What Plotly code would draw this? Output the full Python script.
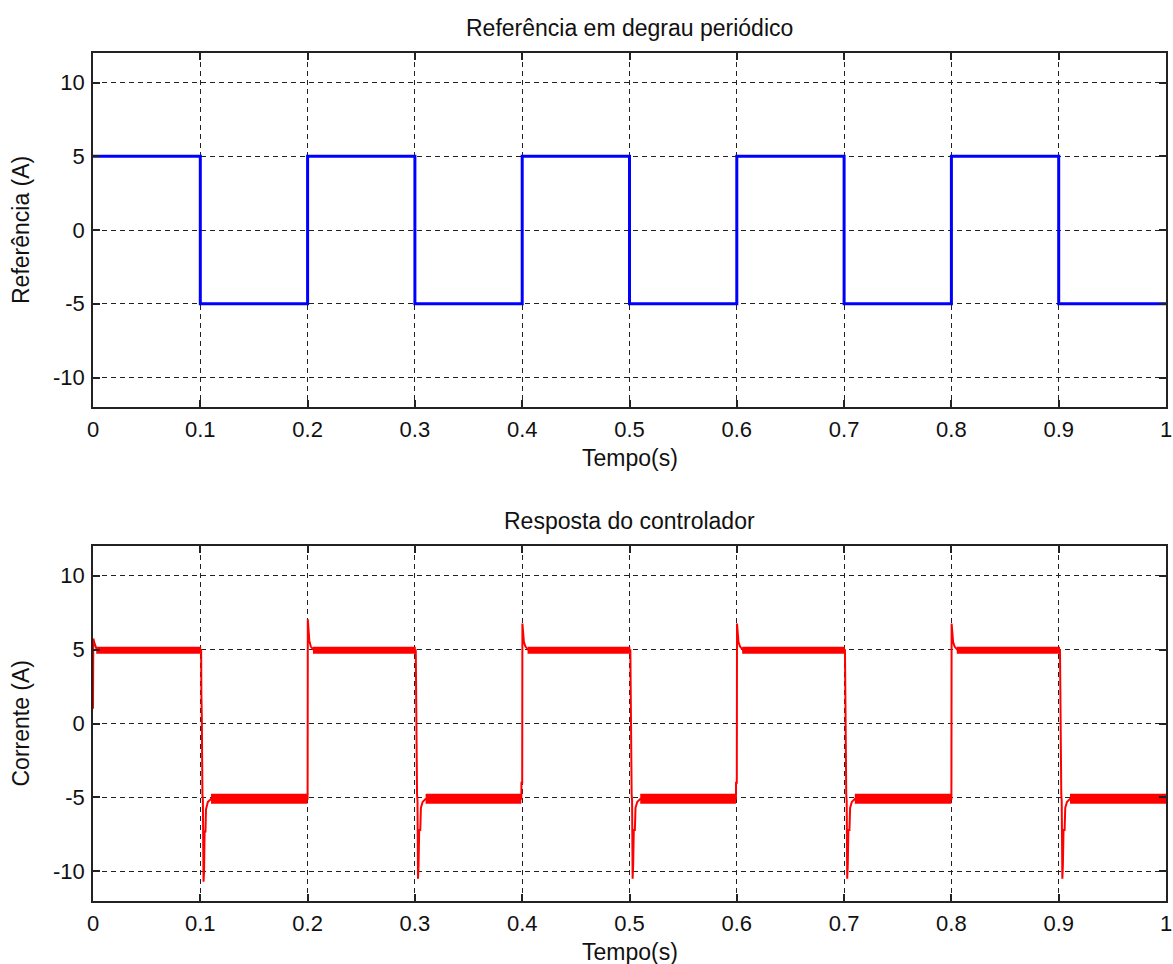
import plotly.graph_objects as go
from plotly.subplots import make_subplots

# ---------------- data ----------------
# Reference (periodic step)
ref_t = [0.0, 0.1, 0.2, 0.3, 0.4, 0.5, 0.6, 0.7, 0.8, 0.9, 1.0]
ref_i = [5, -5, 5, -5, 5, -5, 5, -5, 5, -5, -5]

# Controller response (key points)
resp_t = [
    0.0000, 0.0003, 0.0015, 0.0030, 0.0060,
    0.1008, 0.1010, 0.1014, 0.1020, 0.1024, 0.1030, 0.1035, 0.1040, 0.1048, 0.1053, 0.1070, 0.1100,
    0.2000, 0.2002, 0.2008, 0.2016, 0.2030, 0.2060,
    0.3008, 0.3010, 0.3014, 0.3020, 0.3024, 0.3029, 0.3034, 0.3040, 0.3050, 0.3056, 0.3072, 0.3100,
    0.3992, 0.3993, 0.4000, 0.4002, 0.4008, 0.4016, 0.4030, 0.4060,
    0.5008, 0.5010, 0.5014, 0.5020, 0.5024, 0.5029, 0.5034, 0.5040, 0.5050, 0.5056, 0.5072, 0.5100,
    0.5992, 0.5993, 0.6000, 0.6002, 0.6008, 0.6016, 0.6030, 0.6060,
    0.7008, 0.7010, 0.7014, 0.7020, 0.7024, 0.7029, 0.7034, 0.7040, 0.7050, 0.7056, 0.7072, 0.7100,
    0.8000, 0.8002, 0.8008, 0.8016, 0.8030, 0.8060,
    0.9012, 0.9014, 0.9018, 0.9024, 0.9028, 0.9034, 0.9039, 0.9045, 0.9055, 0.9061, 0.9077, 0.9105,
    1.0000,
]
resp_i = [
    1.0, 5.75, 5.4, 5.1, 4.95,
    4.95, 2.0, 0.5, -4.8, -5.2, -10.7, -10.0, -7.3, -7.3, -5.8, -5.3, -5.1,
    -5.08, 7.05, 6.2, 5.6, 5.2, 4.95,
    4.95, 1.65, 0.5, -4.8, -5.2, -10.5, -9.6, -7.2, -7.2, -5.7, -5.3, -5.1,
    -5.08, -4.0, -4.0, 6.76, 6.0, 5.5, 5.2, 4.95,
    4.95, 1.65, 0.5, -4.8, -5.2, -10.5, -9.6, -7.2, -7.2, -5.7, -5.3, -5.1,
    -5.08, -4.0, -4.0, 6.76, 6.0, 5.5, 5.2, 4.95,
    4.95, 1.65, 0.5, -4.8, -5.2, -10.5, -9.6, -7.2, -7.2, -5.7, -5.3, -5.1,
    -5.08, 6.76, 6.0, 5.5, 5.2, 4.95,
    4.95, 1.65, 0.5, -4.8, -5.2, -10.5, -9.6, -7.2, -7.2, -5.7, -5.3, -5.1,
    -5.08,
]

# Ripple bands on the steady-state plateaus
pos_start = [0.003, 0.205, 0.405, 0.605, 0.805]
pos_end = [0.1008, 0.3008, 0.5008, 0.7008, 0.9012]
pos_level = 4.95
neg_start = [0.110, 0.310, 0.510, 0.710, 0.9105]
neg_end = [0.2000, 0.3992, 0.5992, 0.8000, 1.0000]
neg_level = -5.08

x_ticks = [0, 0.1, 0.2, 0.3, 0.4, 0.5, 0.6, 0.7, 0.8, 0.9, 1]
x_tick_text = ["0", "0.1", "0.2", "0.3", "0.4", "0.5", "0.6", "0.7", "0.8", "0.9", "1"]
y_ticks = [-10, -5, 0, 5, 10]
y_tick_text = ["-10", "-5", "0", "5", "10"]

titles = ["Referência em degrau periódico", "Resposta do controlador"]
y_titles = ["Referência (A)", "Corrente (A)"]
x_title = "Tempo(s)"

# ---------------- figure ----------------
FONT = "Liberation Sans, Arial, sans-serif"
FS = 22
FT = 23
fig = make_subplots(rows=2, cols=1, vertical_spacing=0.0)

fig.add_trace(go.Scatter(x=ref_t, y=ref_i, mode="lines", line=dict(color="#0000ff", width=3, shape="hv"),
                         showlegend=False), row=1, col=1)

def band(starts, ends, level):
    xs, ys = [], []
    for s, e in zip(starts, ends):
        xs += [s, e, None]
        ys += [level, level, None]
    return xs, ys

bx, by = band(pos_start, pos_end, pos_level)
fig.add_trace(go.Scatter(x=bx, y=by, mode="lines", line=dict(color="#ff0000", width=7),
                         showlegend=False), row=2, col=1)
bx, by = band(neg_start, neg_end, neg_level)
fig.add_trace(go.Scatter(x=bx, y=by, mode="lines", line=dict(color="#ff0000", width=10),
                         showlegend=False), row=2, col=1)
fig.add_trace(go.Scatter(x=resp_t, y=resp_i, mode="lines", line=dict(color="#ff0000", width=2),
                         showlegend=False), row=2, col=1)

axis_common = dict(
    showline=True, linecolor="#222", linewidth=1.5, mirror="allticks",
    ticks="inside", ticklen=7, tickcolor="#222", tickwidth=1.5,
    showgrid=True, gridcolor="#222", gridwidth=1, griddash="5px,4px",
    zeroline=False, tickfont=dict(family=FONT, size=FS, color="#111"),
    automargin=False, ticklabeloverflow="allow",
)
for r, dom in [(1, [0.5825, 1.0]), (2, [0.0, 0.4186])]:
    fig.update_xaxes(range=[0, 1], tickvals=x_ticks, ticktext=x_tick_text, row=r, col=1,
                     ticklabelstandoff=2, **axis_common)
    fig.update_yaxes(range=[-12, 12], tickvals=y_ticks, ticktext=y_tick_text, domain=dom, row=r, col=1,
                     ticklabelstandoff=2, **axis_common)

annos = []
for (ytop, ybot), title, ytitle in zip([(1.0, 0.5825), (0.4186, 0.0)], titles, y_titles):
    annos.append(dict(text=title, x=0.5, y=ytop, xref="paper", yref="paper", xanchor="center",
                      yanchor="middle", yshift=25, showarrow=False, font=dict(family=FONT, size=FT, color="#111")))
    annos.append(dict(text=x_title, x=0.5, y=ybot, xref="paper", yref="paper", xanchor="center",
                      yanchor="middle", yshift=-51, showarrow=False, font=dict(family=FONT, size=FT, color="#111")))
    annos.append(dict(text=ytitle, x=0, y=(ytop + ybot) / 2, xref="paper", yref="paper", xanchor="center",
                      yanchor="middle", xshift=-72, textangle=-90, showarrow=False,
                      font=dict(family=FONT, size=FT, color="#111")))

fig.update_layout(
    width=1173, height=964,
    margin=dict(l=93, r=7, t=53, b=63),
    paper_bgcolor="white", plot_bgcolor="white",
    annotations=annos,
    showlegend=False,
)

# remove the default page margin so the figure fills the window exactly
fig.write_html("out.html", config={"displayModeBar": False},
               post_script="document.body.style.margin='0';document.body.style.overflow='hidden';")
